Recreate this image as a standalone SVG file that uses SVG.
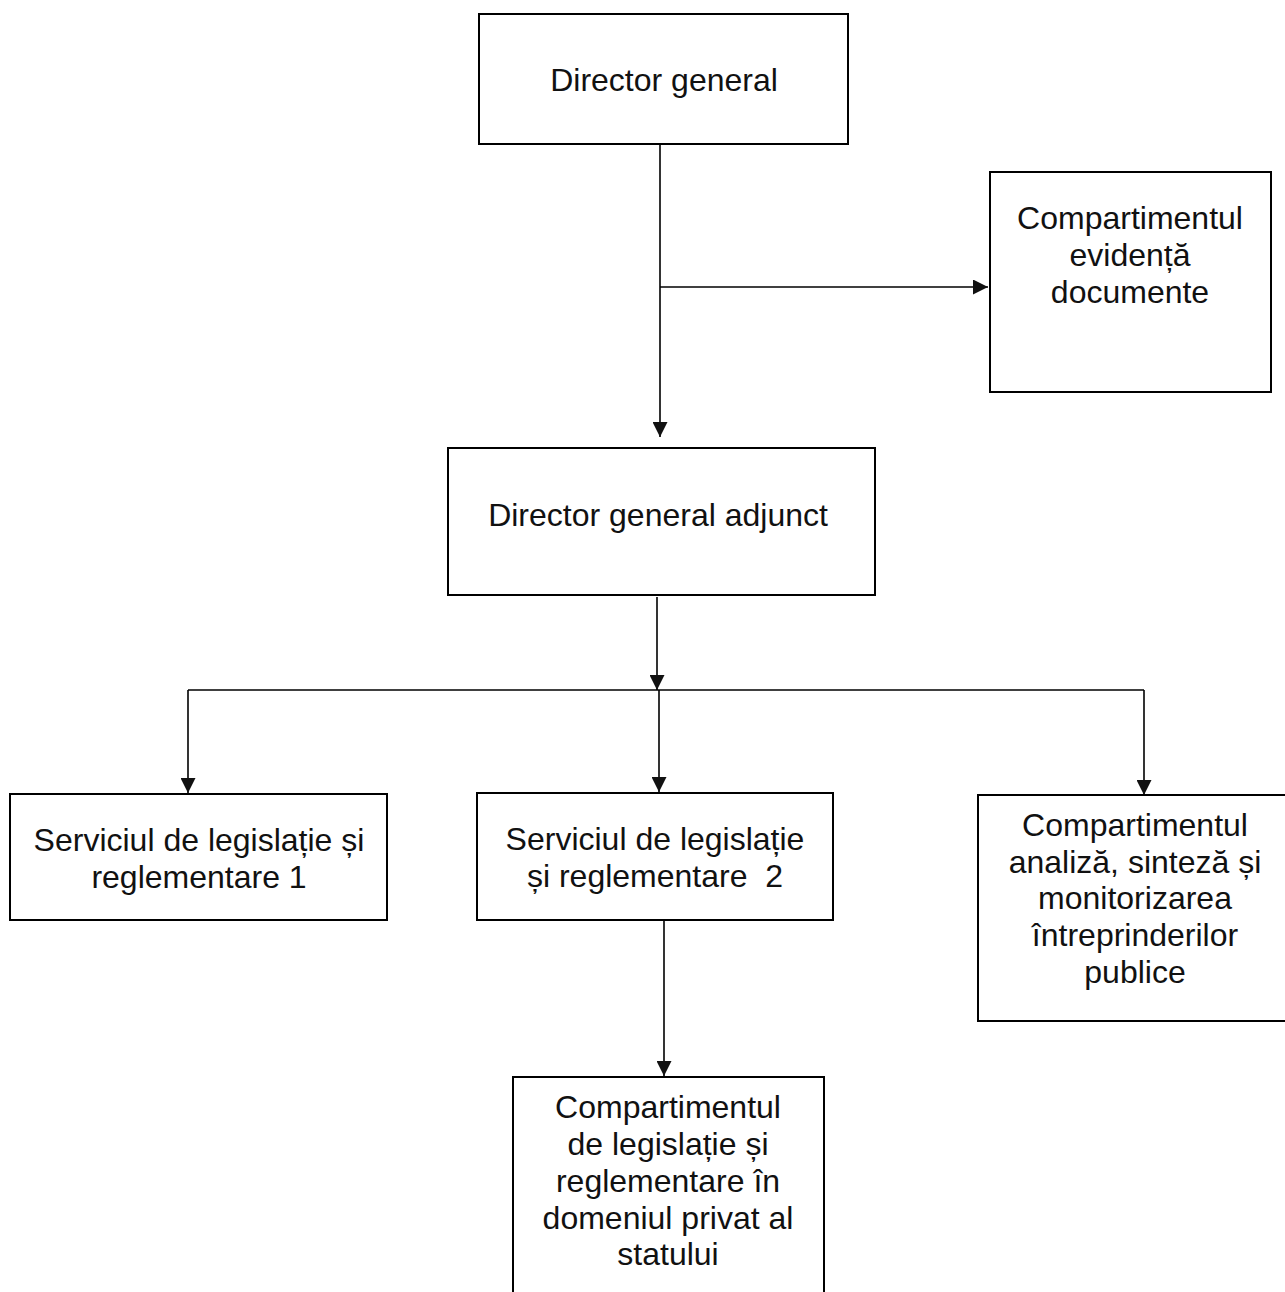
<svg xmlns="http://www.w3.org/2000/svg" width="1285" height="1292" viewBox="0 0 1285 1292">
<style>
.box{fill:#fff;stroke:#000;stroke-width:2}
.t{font-family:"Liberation Sans",Arial,sans-serif;font-size:32px;fill:#111;text-anchor:middle}
.c{fill:none;stroke:#000;stroke-width:1.6}
</style>
<defs>
<marker id="ah" viewBox="0 0 10 10" refX="10" refY="5" markerUnits="userSpaceOnUse" markerWidth="15" markerHeight="15" orient="auto" preserveAspectRatio="none">
<path d="M0,0 L10,5 L0,10 z" fill="#111"/>
</marker>
</defs>
<rect width="1285" height="1292" fill="#fff"/>
<g id="connectors">
<path class="c" d="M660,144 V437" marker-end="url(#ah)"/>
<path class="c" d="M660,287 H988" marker-end="url(#ah)"/>
<path class="c" d="M657,597 V690" marker-end="url(#ah)"/>
<path class="c" d="M188,690 H1144"/>
<path class="c" d="M188,690 V793" marker-end="url(#ah)"/>
<path class="c" d="M659,690 V792" marker-end="url(#ah)"/>
<path class="c" d="M1144,690 V795" marker-end="url(#ah)"/>
<path class="c" d="M664,920 V1076" marker-end="url(#ah)"/>
</g>
<g id="director-general">
<rect class="box" x="479" y="14" width="369" height="130"/>
<text class="t" x="664" y="91">Director general</text>
</g>
<g id="compartiment-evidenta">
<rect class="box" x="990" y="172" width="281" height="220"/>
<text class="t" x="1130" y="229">Compartimentul</text>
<text class="t" x="1130" y="266">evidență</text>
<text class="t" x="1130" y="303">documente</text>
</g>
<g id="director-general-adjunct">
<rect class="box" x="448" y="448" width="427" height="147"/>
<text class="t" x="658" y="526">Director general adjunct</text>
</g>
<g id="serviciu-1">
<rect class="box" x="10" y="794" width="377" height="126"/>
<text class="t" x="199" y="851">Serviciul de legislație și</text>
<text class="t" x="199" y="888">reglementare 1</text>
</g>
<g id="serviciu-2">
<rect class="box" x="477" y="793" width="356" height="127"/>
<text class="t" x="655" y="850">Serviciul de legislație</text>
<text class="t" x="655" y="887">și reglementare&#160; 2</text>
</g>
<g id="compartiment-analiza">
<rect class="box" x="978" y="795" width="320" height="226"/>
<text class="t" x="1135" y="836">Compartimentul</text>
<text class="t" x="1135" y="873">analiză, sinteză și</text>
<text class="t" x="1135" y="909">monitorizarea</text>
<text class="t" x="1135" y="946">întreprinderilor</text>
<text class="t" x="1135" y="983">publice</text>
</g>
<g id="compartiment-domeniu-privat">
<rect class="box" x="513" y="1077" width="311" height="240"/>
<text class="t" x="668" y="1118">Compartimentul</text>
<text class="t" x="668" y="1155">de legislație și</text>
<text class="t" x="668" y="1192">reglementare în</text>
<text class="t" x="668" y="1229">domeniul privat al</text>
<text class="t" x="668" y="1265">statului</text>
</g>
</svg>
